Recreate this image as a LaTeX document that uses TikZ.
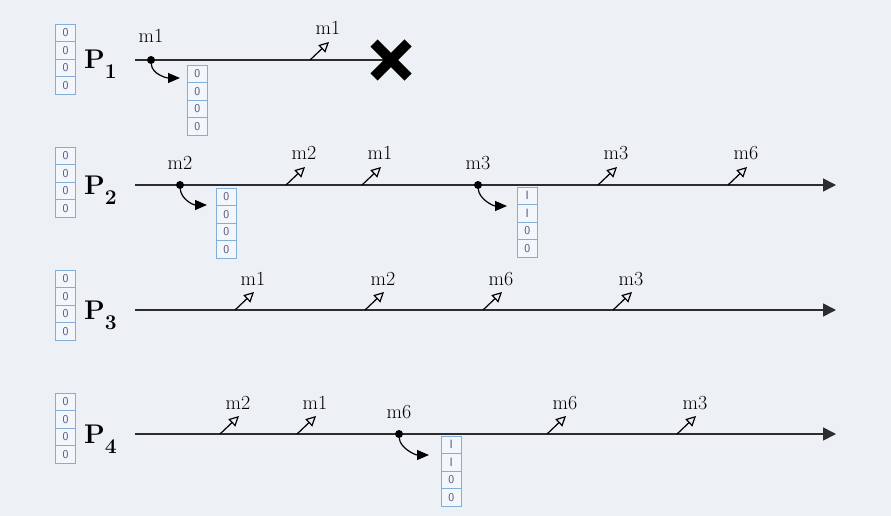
\documentclass[tikz,border=0pt]{standalone}
\usepackage{xcolor}
\usepackage{tikz}
\usetikzlibrary{positioning, arrows.meta, shapes.misc}

\definecolor{bgcol}{RGB}{237,240,244}
\definecolor{linecol}{RGB}{45,45,45}
\definecolor{cellline}{RGB}{130,175,215}
\definecolor{cellfill}{RGB}{243,246,250}
\definecolor{celltext}{RGB}{85,85,125}

\begin{document}
\begin{tikzpicture}[x=1pt, y=-1pt,
        cell/.style={rectangle, draw=cellline, fill=cellfill, line width=0.9pt,
            minimum width=20.5pt, minimum height=17.5pt, inner sep=0pt, outer sep=0pt,
            font=\sffamily\fontsize{12}{13}\selectfont, text=celltext},
        procname/.style={anchor=base west, inner sep=0pt,
            font=\bfseries\fontsize{27}{28}\selectfont},
        timeline/.style={draw=linecol, line width=1.7pt},
        event/.style={circle, fill=black, inner sep=0pt, minimum size=8pt},
        msg/.style={anchor=base, inner sep=0pt, font=\fontsize{20}{22}\selectfont},
        send/.style={-{Triangle[open, length=10pt, width=10pt]}, line width=1.2pt},
        deliver/.style={-{Triangle[length=12pt, width=10pt]}, line width=1.2pt}]

        \fill[bgcol] (0,0) rectangle (891,516);

        % P1
        \node[cell] (v1a) at (65.5,32.75) {0};
        \node[cell, below=0pt of v1a] (v1b) {0};
        \node[cell, below=0pt of v1b] (v1c) {0};
        \node[cell, below=0pt of v1c] (v1d) {0};
        \node[procname] (P1) at (84,69) {P\raisebox{-10pt}{\fontsize{21}{22}\selectfont 1}};

        \coordinate (p1start) at (135,60);
        \coordinate (crash) at (391,60);
        \draw[timeline] (p1start) -- (crash);
        \node[cross out, draw=black, line width=10pt, minimum size=24pt, inner sep=0pt] (crashmark) at (crash) {};

        \node[event] (e11) at (151,60) {};
        \node[msg] (le11) at (151,43) {m1};
        \coordinate (d11) at (180,78);
        \draw[deliver] (e11) .. controls +(1,14) and +(-14,0) .. (d11);
        \node[cell] (b11a) at (197.25,73.75) {0};
        \node[cell, below=0pt of b11a] (b11b) {0};
        \node[cell, below=0pt of b11b] (b11c) {0};
        \node[cell, below=0pt of b11c] (b11d) {0};

        \coordinate (s11) at (310,60);
        \coordinate (t11) at (329,42);
        \draw[send] (s11) -- (t11);
        \node[msg] (ls11) at (328,35) {m1};

        % P2
        \node[cell] (v2a) at (65.5,155.75) {0};
        \node[cell, below=0pt of v2a] (v2b) {0};
        \node[cell, below=0pt of v2b] (v2c) {0};
        \node[cell, below=0pt of v2c] (v2d) {0};
        \node[procname] (P2) at (84,194) {P\raisebox{-10pt}{\fontsize{21}{22}\selectfont 2}};

        \coordinate (p2start) at (135,185);
        \coordinate (p2end) at (836,185);
        \draw[timeline, -{Triangle[length=13pt, width=13pt]}] (p2start) -- (p2end);

        \node[event] (e21) at (180,185) {};
        \node[msg] (le21) at (180,169) {m2};
        \coordinate (d21) at (207,205);
        \draw[deliver] (e21) .. controls +(1,14) and +(-14,0) .. (d21);
        \node[cell] (b21a) at (226.25,196.75) {0};
        \node[cell, below=0pt of b21a] (b21b) {0};
        \node[cell, below=0pt of b21b] (b21c) {0};
        \node[cell, below=0pt of b21c] (b21d) {0};

        \coordinate (s21) at (286,185);
        \coordinate (t21) at (305,167);
        \draw[send] (s21) -- (t21);
        \node[msg] (ls21) at (304,160) {m2};

        \coordinate (s22) at (362,185);
        \coordinate (t22) at (381,167);
        \draw[send] (s22) -- (t22);
        \node[msg] (ls22) at (380,160) {m1};

        \node[event] (e22) at (478,185) {};
        \node[msg] (le22) at (478,169) {m3};
        \coordinate (d22) at (507,206);
        \draw[deliver] (e22) .. controls +(1,14) and +(-14,0) .. (d22);
        \node[cell] (b22a) at (527.25,195.75) {I};
        \node[cell, below=0pt of b22a] (b22b) {I};
        \node[cell, below=0pt of b22b] (b22c) {0};
        \node[cell, below=0pt of b22c] (b22d) {0};

        \coordinate (s23) at (598,185);
        \coordinate (t23) at (617,167);
        \draw[send] (s23) -- (t23);
        \node[msg] (ls23) at (616,160) {m3};

        \coordinate (s24) at (728,185);
        \coordinate (t24) at (747,167);
        \draw[send] (s24) -- (t24);
        \node[msg] (ls24) at (746,160) {m6};

        % P3
        \node[cell] (v3a) at (65.5,278.75) {0};
        \node[cell, below=0pt of v3a] (v3b) {0};
        \node[cell, below=0pt of v3b] (v3c) {0};
        \node[cell, below=0pt of v3c] (v3d) {0};
        \node[procname] (P3) at (84,319) {P\raisebox{-10pt}{\fontsize{21}{22}\selectfont 3}};

        \coordinate (p3start) at (135,310);
        \coordinate (p3end) at (836,310);
        \draw[timeline, -{Triangle[length=13pt, width=13pt]}] (p3start) -- (p3end);

        \coordinate (s31) at (235,310);
        \coordinate (t31) at (254,292);
        \draw[send] (s31) -- (t31);
        \node[msg] (ls31) at (253,285) {m1};

        \coordinate (s32) at (365,310);
        \coordinate (t32) at (384,292);
        \draw[send] (s32) -- (t32);
        \node[msg] (ls32) at (383,285) {m2};

        \coordinate (s33) at (483,310);
        \coordinate (t33) at (502,292);
        \draw[send] (s33) -- (t33);
        \node[msg] (ls33) at (501,285) {m6};

        \coordinate (s34) at (613,310);
        \coordinate (t34) at (632,292);
        \draw[send] (s34) -- (t34);
        \node[msg] (ls34) at (631,285) {m3};

        % P4
        \node[cell] (v4a) at (65.5,401.75) {0};
        \node[cell, below=0pt of v4a] (v4b) {0};
        \node[cell, below=0pt of v4b] (v4c) {0};
        \node[cell, below=0pt of v4c] (v4d) {0};
        \node[procname] (P4) at (84,443) {P\raisebox{-10pt}{\fontsize{21}{22}\selectfont 4}};

        \coordinate (p4start) at (135,434);
        \coordinate (p4end) at (836,434);
        \draw[timeline, -{Triangle[length=13pt, width=13pt]}] (p4start) -- (p4end);

        \coordinate (s41) at (220,434);
        \coordinate (t41) at (239,416);
        \draw[send] (s41) -- (t41);
        \node[msg] (ls41) at (238,409) {m2};

        \coordinate (s42) at (297,434);
        \coordinate (t42) at (316,416);
        \draw[send] (s42) -- (t42);
        \node[msg] (ls42) at (315,409) {m1};

        \node[event] (e41) at (399,434) {};
        \node[msg] (le41) at (399,418) {m6};
        \coordinate (d41) at (429,455);
        \draw[deliver] (e41) .. controls +(1,14) and +(-14,0) .. (d41);
        \node[cell] (b41a) at (451.25,444.75) {I};
        \node[cell, below=0pt of b41a] (b41b) {I};
        \node[cell, below=0pt of b41b] (b41c) {0};
        \node[cell, below=0pt of b41c] (b41d) {0};

        \coordinate (s43) at (547,434);
        \coordinate (t43) at (566,416);
        \draw[send] (s43) -- (t43);
        \node[msg] (ls43) at (565,409) {m6};

        \coordinate (s44) at (677,434);
        \coordinate (t44) at (696,416);
        \draw[send] (s44) -- (t44);
        \node[msg] (ls44) at (695,409) {m3};
    \end{tikzpicture}
\end{document}
